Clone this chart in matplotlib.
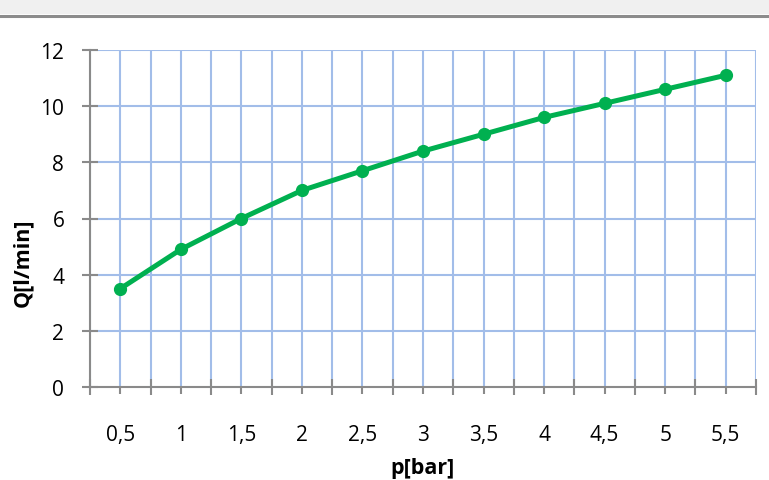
import matplotlib.pyplot as plt
import matplotlib.patches as patches
import numpy as np

# data
pressure_labels = ["0,5", "1", "1,5", "2", "2,5", "3", "3,5", "4", "4,5", "5", "5,5"]
flow = [3.5, 4.9, 6.0, 7.0, 7.7, 8.4, 9.0, 9.6, 10.1, 10.6, 11.1]
y_ticks = [0, 2, 4, 6, 8, 10, 12]

plt.rcParams['font.family'] = ['Open Sans', 'DejaVu Sans']

grid_color = "#A2BDE9"
axis_color = "#8A8A8A"
line_color = "#00B050"
W, H = 769, 481

fig = plt.figure(figsize=(W / 100, H / 100), dpi=100)

# window frame strip at the top
fig.patches.append(patches.Rectangle((0, 1 - 15 / H), 1, 15 / H, transform=fig.transFigure,
                                     facecolor="#F0F0F0", edgecolor="none", zorder=0))
fig.add_artist(plt.Line2D([0, 1], [1 - 16.5 / H] * 2, transform=fig.transFigure,
                          color="#8C8C8C", lw=2.2))

ax = fig.add_axes([90 / W, 93 / H, 666 / W, 337 / H])

x = np.arange(len(flow))
ax.set_xlim(-0.5, len(flow) - 0.5)
ax.set_ylim(0, 12)

# grid: vertical lines at every half category, horizontal at y ticks
for gx in np.arange(-0.5, len(flow), 0.5):
    ax.axvline(gx, color=grid_color, lw=1.5, zorder=1)
for gy in y_ticks[1:]:
    ax.axhline(gy, color=grid_color, lw=1.5, zorder=1)

ax.plot(x, flow, color=line_color, lw=3.6, marker="o", markersize=8.5, zorder=3,
        solid_capstyle="round")

for s in ["top", "right"]:
    ax.spines[s].set_visible(False)
for s in ["left", "bottom"]:
    ax.spines[s].set_color(axis_color)
    ax.spines[s].set_linewidth(1.5)
    ax.spines[s].set_zorder(2)

# category boundaries as major ticks, labels on category centres
ax.set_xticks(np.arange(-0.5, len(flow), 1.0))
ax.set_xticklabels([])
ax.set_xticks(x, minor=True)
ax.set_xticklabels(pressure_labels, minor=True)
ax.tick_params(axis="x", which="major", direction="inout", length=11, width=1.5, color=axis_color)
ax.tick_params(axis="x", which="minor", direction="out", length=5, width=1.5, color=axis_color,
               pad=22, labelsize=15)

ax.set_yticks(y_ticks)
ax.tick_params(axis="y", direction="inout", length=11, width=1.5, color=axis_color,
               pad=13, labelsize=15)

# axis titles placed where the chart puts them
fig.text(423 / W, 1 - 469 / H, "p[bar]", fontsize=15.5, fontweight="bold",
         ha="center", va="center")
fig.text(23 / W, 1 - 263 / H, "Q[l/min]", fontsize=15.5, fontweight="bold",
         ha="center", va="center", rotation=90)

fig.savefig("out.png", dpi=100)
